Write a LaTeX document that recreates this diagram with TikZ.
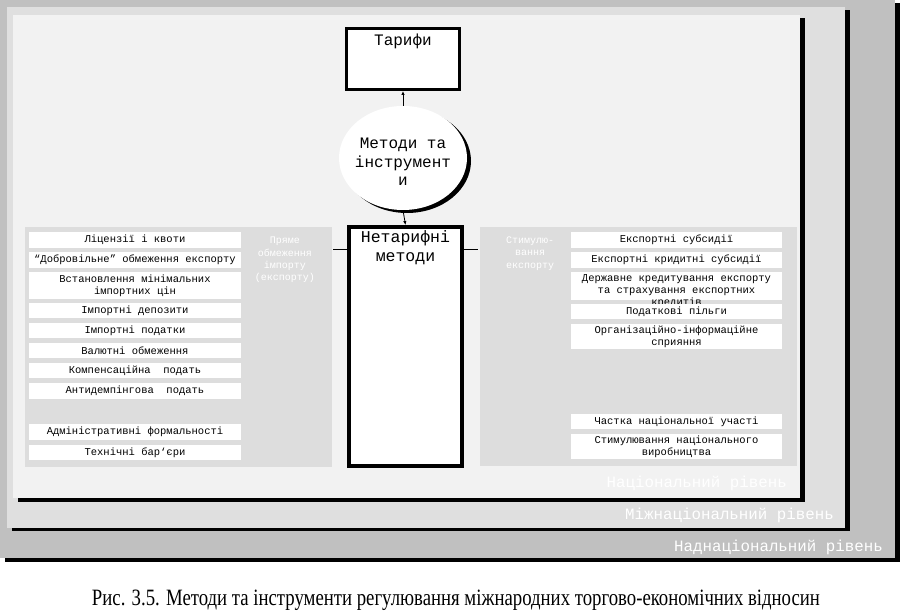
\documentclass[tikz,border=0pt]{standalone}
\usepackage{fontspec}
\setmainfont{Liberation Serif}
\newfontfamily\monofnt{Liberation Mono}
\usetikzlibrary{arrows.meta,shapes.geometric}
\definecolor{outerc}{HTML}{C0C0C0}
\definecolor{midc}{HTML}{DFDFDF}
\definecolor{innerc}{HTML}{F2F2F2}
\definecolor{panelc}{HTML}{DDDDDD}
\begin{document}
\begin{tikzpicture}[x=1pt,y=-1pt,
  itemL/.style={fill=white, draw=none, inner sep=0, minimum width=212, align=center,
    font=\monofnt\fontsize{10.5}{12}\selectfont},
  itemR/.style={itemL, minimum width=211},
  sidetxt/.style={text=white, align=center, inner sep=0, font=\monofnt\fontsize{10}{12.3}\selectfont},
  leveltxt/.style={text=white, anchor=east, inner sep=0, font=\monofnt\fontsize{15.8}{18}\selectfont},
  bigbox/.style={draw=black, fill=white, inner sep=0},
  bigtxt/.style={align=center, inner sep=0, font=\monofnt\fontsize{16}{19}\selectfont},
  conn/.style={draw=black, line width=0.8},
  tip/.style={-{Latex[length=4,width=3.5]}}
]
\useasboundingbox (0,0) rectangle (903,612);
\fill[white] (0,0) rectangle (903,612);
% levels
\fill[black] (5,3) rectangle (900,562);
\fill[outerc] (0,0) rectangle (895,558);
\fill[black] (12,10) rectangle (850,531);
\fill[midc] (7,7) rectangle (845,528);
\fill[black] (18,18) rectangle (805,502);
\fill[innerc] (13,15) rectangle (800,498);
\node[leveltxt] (lvn) at (787,483) {Національний рівень};
\node[leveltxt] (lvm) at (834,515) {Міжнаціональний рівень};
\node[leveltxt] (lvs) at (883,547) {Наднаціональний рівень};
% panels
\fill[panelc] (25,227) rectangle (332,467);
\fill[panelc] (480,227) rectangle (797,466);
\node[sidetxt] (pryame) at (285,260) {Пряме\\обмеження\\імпорту\\(експорту)};
\node[sidetxt] (stym) at (530,253.5) {Стимулю-\\вання\\експорту};
% left items
\node[itemL, minimum height=16] (l1) at (135,240) {Ліцензії і квоти};
\node[itemL, minimum height=16] (l2) at (135,260) {“Добровільне” обмеження експорту};
\node[itemL, minimum height=27] (l3) at (135,285.5) {Встановлення мінімальних\\імпортних цін};
\node[itemL, minimum height=15] (l4) at (135,310.5) {Імпортні депозити};
\node[itemL, minimum height=15] (l5) at (135,330.5) {Імпортні податки};
\node[itemL, minimum height=15] (l6) at (135,350.5) {Валютні обмеження};
\node[itemL, minimum height=15] (l7) at (135,370.5) {Компенсаційна\ \ подать};
\node[itemL, minimum height=16] (l8) at (135,391) {Антидемпінгова\ \ подать};
\node[itemL, minimum height=16] (l9) at (135,432) {Адміністративні формальності};
\node[itemL, minimum height=15] (l10) at (135,452.5) {Технічні бар‘єри};
% right items
\node[itemR, minimum height=16] (r1) at (676.5,240) {Експортні субсидії};
\node[itemR, minimum height=16] (r2) at (676.5,260) {Експортні кридитні субсидії};
\node[itemR, minimum height=28] (r3) at (676.5,286) {};
\node[itemR, fill=none] (r3t) at (676.5,291) {Державне кредитування експорту\\та страхування експортних\\кредитів};
\node[itemR, minimum height=15] (r4) at (676.5,311.5) {Податкові пільги};
\node[itemR, minimum height=25] (r5) at (676.5,336.5) {Організаційно-інформаційне\\сприяння};
\node[itemR, minimum height=15] (r6) at (676.5,421.5) {Частка національної участі};
\node[itemR, minimum height=25] (r7) at (676.5,446.5) {Стимулювання національного\\виробництва};
% central
\node[bigbox, line width=3.3, minimum width=112.7, minimum height=60.7] (tar) at (403,59) {};
\node[bigtxt] (tart) at (403,41) {Тарифи};
\node[ellipse, fill=black, inner sep=0, minimum width=128, minimum height=104] (ellsh) at (407,161) {};
\node[ellipse, fill=white, inner sep=0, minimum width=128, minimum height=104] (ell) at (403,158) {};
\node[bigtxt, font=\monofnt\fontsize{16}{18.5}\selectfont] (ellt) at (403,162) {Методи та\\інструмент\\и};
\node[bigbox, line width=4, minimum width=113, minimum height=239] (net) at (405.5,346.5) {};
\node[bigtxt, font=\monofnt\fontsize{16.5}{19}\selectfont] (nett) at (405.5,247.5) {Нетарифні\\методи};
% connectors
\draw[conn, tip] (ell.north) -- (tar.south);
\draw[conn, tip] (ell.south) -- (net.north);
\coordinate (lp) at (333,250);
\coordinate (rp) at (478,250);
\draw[conn, line width=1] (lp) -- (net.west |- lp);
\draw[conn, line width=1] (net.east |- rp) -- (rp);
% caption
\node[anchor=base, inner sep=0] (cap) at (456,605) {\resizebox{728pt}{15.5pt}{\fontsize{20}{20}\selectfont Рис. 3.5. Методи та інструменти регулювання міжнародних торгово-економічних відносин}};
\end{tikzpicture}
\end{document}
